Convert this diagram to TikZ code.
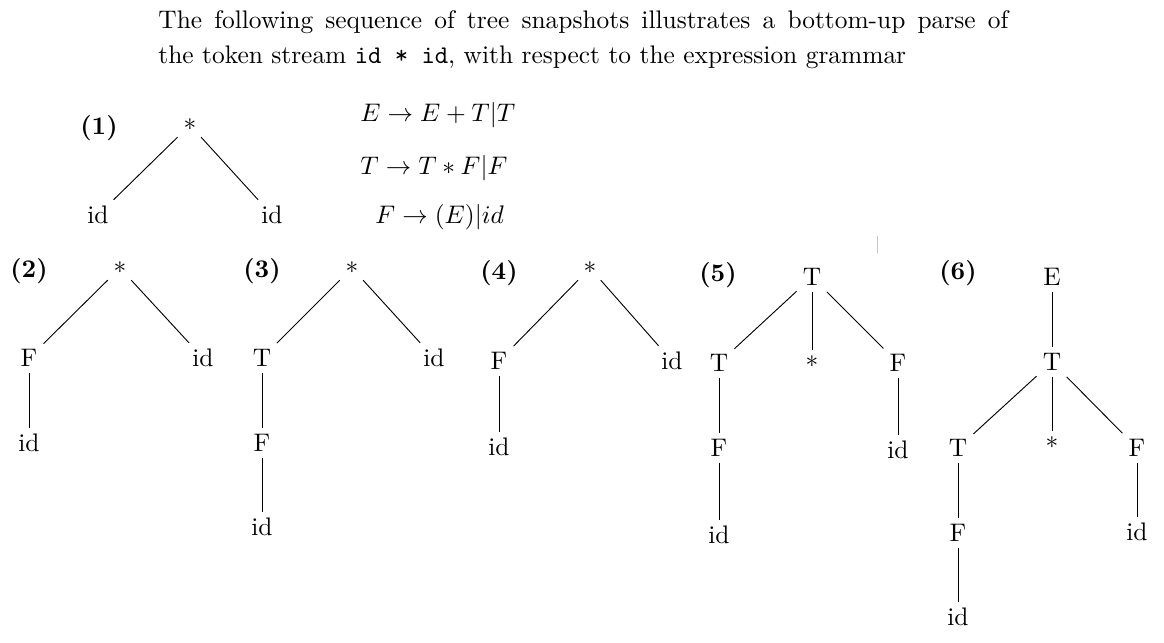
\documentclass[tikz,border=0pt,11pt]{standalone}
\usepackage{amsmath}
\usepackage{amssymb}
\tikzset{
  lbl/.style={inner sep=2.5pt},
  tag/.style={font=\bfseries, inner sep=0pt},
  rule/.style={inner sep=0pt, anchor=base west}
}
\begin{document}
\begin{tikzpicture}[x=0.431pt, y=-0.431pt]
\useasboundingbox (0,0) rectangle (1164,642);
\node[anchor=base west, inner sep=0pt] (line1) at (158,28)
     {\makebox[366.3pt][s]{The following sequence of tree snapshots illustrates a bottom-up parse of}};
\node[anchor=base west, inner sep=0pt] (line2) at (158,63)
     {the token stream \texttt{id * id}, with respect to the expression grammar};
\node[rule] (ruleE) at (360,121) {$E \to E+T|T$};
\node[rule] (ruleT) at (360,174) {$T \to T*F|F$};
\node[rule] (ruleF) at (375,223) {$F \to (E)|id$};
\draw[gray!45] (877.7,236) -- (877.7,252.5);

\node[tag] (n1) at (99,128) {(1)};
\node[tag] (n2) at (29,271) {(2)};
\node[tag] (n3) at (262,271) {(3)};
\node[tag] (n4) at (499,273) {(4)};
\node[tag] (n5) at (718,275) {(5)};
\node[tag] (n6) at (958,273) {(6)};

\node[lbl] (s1) at (190,125) {$*$};
\node[lbl] (l1) at (98,215) {id};
\node[lbl] (r1) at (272,215) {id};

\node[lbl] (s2) at (120,268) {$*$};
\node[lbl] (f2) at (29,358) {F};
\node[lbl] (r2) at (203,358) {id};
\node[lbl] (i2) at (29,443) {id};

\node[lbl] (s3) at (352,268) {$*$};
\node[lbl] (t3) at (262,358) {T};
\node[lbl] (r3) at (434,358) {id};
\node[lbl] (f3) at (262,443) {F};
\node[lbl] (i3) at (262,527) {id};

\node[lbl] (s4) at (590,268) {$*$};
\node[lbl] (f4) at (499,361) {F};
\node[lbl] (r4) at (672,361) {id};
\node[lbl] (i4) at (499,447) {id};

\node[lbl] (t5) at (812,277) {T};
\node[lbl] (tl5) at (719,363) {T};
\node[lbl] (s5) at (812,362) {$*$};
\node[lbl] (fr5) at (898,363) {F};
\node[lbl] (fl5) at (719,448) {F};
\node[lbl] (ir5) at (898,450) {id};
\node[lbl] (il5) at (719,535) {id};

\node[lbl] (e6) at (1052,277) {E};
\node[lbl] (t6) at (1052,362) {T};
\node[lbl] (tl6) at (958,448) {T};
\node[lbl] (s6) at (1052,443) {$*$};
\node[lbl] (fr6) at (1137,448) {F};
\node[lbl] (fl6) at (958,533) {F};
\node[lbl] (ir6) at (1137,532) {id};
\node[lbl] (il6) at (958,617) {id};

\foreach \a/\b in {s1/l1, s1/r1, s2/f2, s2/r2, f2/i2, s3/t3, s3/r3, t3/f3, f3/i3,
                   s4/f4, s4/r4, f4/i4, t5/tl5, t5/s5, t5/fr5, tl5/fl5, fl5/il5, fr5/ir5,
                   e6/t6, t6/tl6, t6/s6, t6/fr6, tl6/fl6, fl6/il6, fr6/ir6}
     \draw (\a) -- (\b);
\end{tikzpicture}
\end{document}
